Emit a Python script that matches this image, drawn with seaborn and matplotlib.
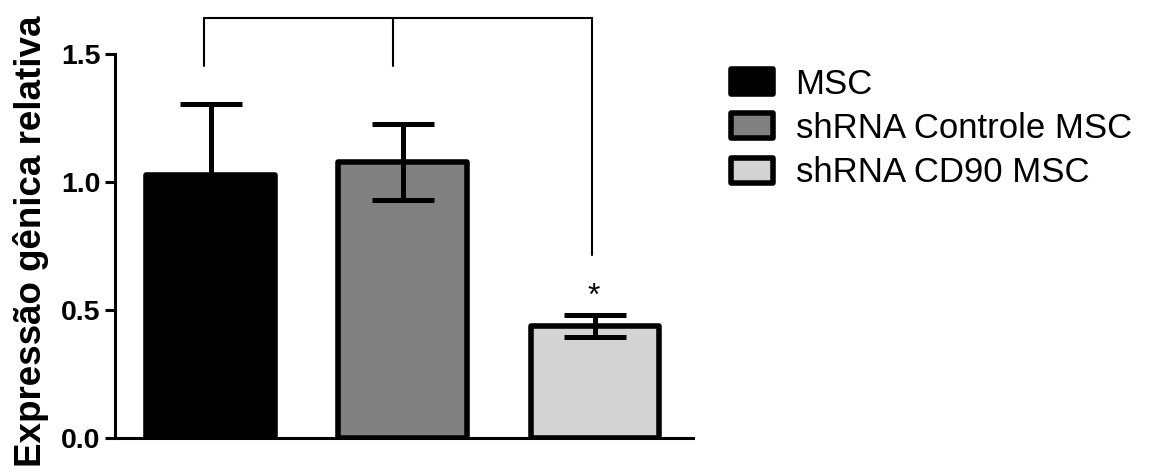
import matplotlib
matplotlib.use("Agg")
import matplotlib.pyplot as plt
import seaborn as sns
import pandas as pd

# Relative gene expression (mean ± SEM)
groups = ["MSC", "shRNA Controle MSC", "shRNA CD90 MSC"]
means = [1.027, 1.077, 0.437]
sems = [0.275, 0.149, 0.042]
colors = ["#000000", "#808080", "#d3d3d3"]
yticks = [0.0, 0.5, 1.0, 1.5]
ylabel = "Expressão gênica relativa"

sns.set_theme(style="white")
plt.rcParams["font.family"] = ["Liberation Sans", "DejaVu Sans"]
plt.rcParams["text.color"] = "black"

df = pd.DataFrame({"grupo": groups, "valor": means})

fig = plt.figure(figsize=(11.51, 4.72), dpi=100)
ax = fig.add_axes([115 / 1151, 1 - 437.7 / 472, 578 / 1151, 384 / 472])

sns.barplot(data=df, x="grupo", y="valor", hue="grupo", palette=colors,
            width=0.67, edgecolor="black", linewidth=4, saturation=1,
            legend=True, ax=ax)
for p in ax.patches:
    p.set_joinstyle("round")

ax.errorbar(range(len(groups)), means, yerr=sems, fmt="none", ecolor="black",
            elinewidth=3.6, capsize=22, capthick=3.6, zorder=5)

ax.set_xlim(-0.497, 2.51)
ax.set_ylim(0, 1.5)
ax.set_yticks(yticks)
ax.set_yticklabels([f"{t:.1f}" for t in yticks], fontsize=20.5,
                   fontweight="bold", color="black")
ax.set_xticks([])
ax.set_xlabel("")
ax.set_ylabel("")
for side in ("top", "right"):
    ax.spines[side].set_visible(False)
for side in ("left", "bottom"):
    ax.spines[side].set_linewidth(2.2)
    ax.spines[side].set_color("black")
ax.tick_params(axis="y", length=7.5, width=2.2, color="black", pad=3,
               left=True, labelcolor="black")

fig.text(31 / 1151, 1 - 241.5 / 472, ylabel, rotation=90, ha="center",
         va="center", fontsize=26.5, fontweight="bold", color="black")

# Significance bracket
top_y = 1.638
ax.plot([-0.034, 1.983], [top_y, top_y], color="black", lw=1.5, clip_on=False)
ax.plot([-0.034, -0.034], [top_y, 1.452], color="black", lw=1.5, clip_on=False)
ax.plot([0.951, 0.951], [top_y, 1.452], color="black", lw=1.5, clip_on=False)
ax.plot([1.983, 1.983], [top_y, 0.713], color="black", lw=1.5, clip_on=False)
ax.text(1.995, 0.55, "*", ha="center", va="center", fontsize=23, color="black")

handles, labels = ax.get_legend_handles_labels()
leg = ax.legend(handles, labels, loc="upper left",
                bbox_to_anchor=(731 / 1151, 1 - 68 / 472),
                bbox_transform=fig.transFigure, frameon=False,
                fontsize=25, handlelength=1.2, handleheight=0.73,
                handletextpad=0.66, labelspacing=0.32, borderpad=0,
                borderaxespad=0, labelcolor="black")
for h in leg.legend_handles:
    h.set_edgecolor("black")
    h.set_linewidth(4)
    h.set_joinstyle("round")

fig.savefig("out.png", dpi=100)
